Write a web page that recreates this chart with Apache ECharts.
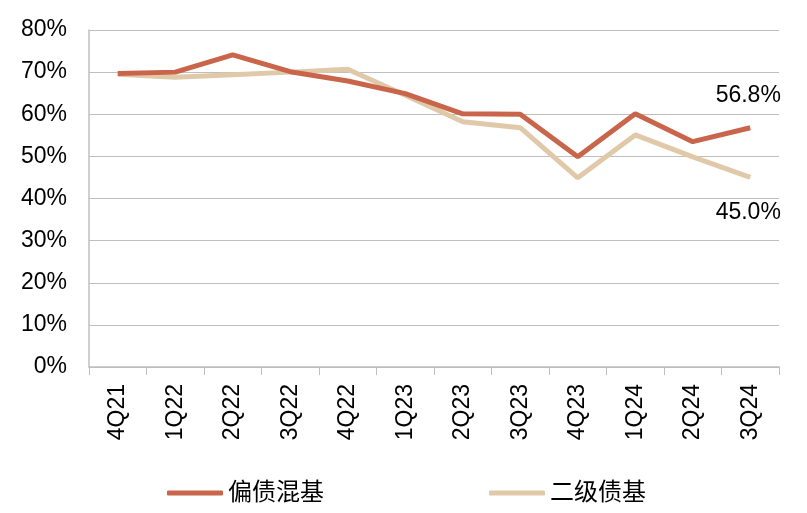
<!DOCTYPE html>
<html><head><meta charset="utf-8">
<script src="https://cdn.jsdelivr.net/npm/echarts@6/dist/echarts.min.js"></script>
<style>html,body{margin:0;padding:0;background:#fff}#c{width:807px;height:513px}</style>
</head><body><div id="c"></div>
<script>
var categories = ['4Q21','1Q22','2Q22','3Q22','4Q22','1Q23','2Q23','3Q23','4Q23','1Q24','2Q24','3Q24'];
var seriesNames = ['偏债混基','二级债基'];
var pianzhai = [69.7, 70.0, 74.1, 70.1, 67.9, 64.9, 60.1, 60.0, 49.9, 60.1, 53.5, 56.8];
var erji = [69.5, 68.8, 69.4, 70.0, 70.7, 64.5, 58.2, 56.8, 44.9, 55.1, 49.9, 45.0];
var yTicks = [0, 80, 10];
var FONT = '"Liberation Sans", Arial, "Noto Sans CJK SC", sans-serif';
var chart = echarts.init(document.getElementById('c'));
function endLabel(pos, dist) {
  return {
    show: true, position: pos, distance: dist, fontSize: 23, color: '#000', fontFamily: FONT,
    offset: [-2, 0],
    formatter: function (p) { return p.dataIndex === categories.length - 1 ? p.value.toFixed(1) + '%' : ''; }
  };
}
chart.setOption({
  animation: false,
  textStyle: { fontFamily: FONT },
  grid: { left: 89, right: 28, top: 30, bottom: 146 },
  legend: {
    left: 162, top: 476, itemWidth: 56, itemHeight: 5, itemGap: 165,
    icon: 'roundRect',
    textStyle: { fontSize: 24, color: '#000', fontFamily: FONT },
    data: seriesNames
  },
  xAxis: {
    type: 'category', data: categories, boundaryGap: true,
    axisLine: { lineStyle: { color: '#BFBFBF', width: 1.5 } },
    axisTick: { show: true, length: 8, lineStyle: { color: '#BFBFBF' } },
    axisLabel: { rotate: 90, fontSize: 23, color: '#000', margin: 17, fontFamily: FONT }
  },
  yAxis: {
    type: 'value', min: yTicks[0], max: yTicks[1], interval: yTicks[2],
    axisLine: { show: true, lineStyle: { color: '#BFBFBF', width: 1.5 } },
    axisTick: { show: false },
    splitLine: { lineStyle: { color: '#BFBFBF', width: 1 } },
    axisLabel: { fontSize: 23, color: '#000', margin: 22, fontFamily: FONT, formatter: '{value}%' }
  },
  series: [
    { name: seriesNames[0], type: 'line', data: pianzhai, symbol: 'circle', symbolSize: 0.1, showSymbol: true, z: 3,
      lineStyle: { color: '#C8654A', width: 5 }, itemStyle: { color: '#C8654A' },
      label: endLabel('top', 21) },
    { name: seriesNames[1], type: 'line', data: erji, symbol: 'circle', symbolSize: 0.1, showSymbol: true, z: 2,
      lineStyle: { color: '#E0C9A8', width: 5 }, itemStyle: { color: '#E0C9A8' },
      label: endLabel('bottom', 24) }
  ]
});
</script></body></html>
